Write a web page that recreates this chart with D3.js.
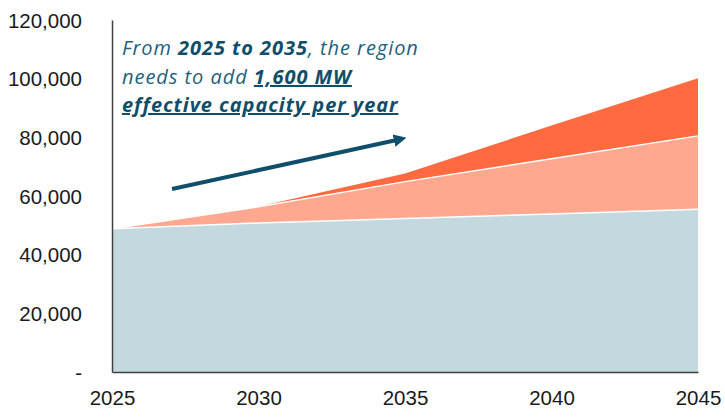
<!DOCTYPE html>
<html>
<head>
<meta charset="utf-8">
<script src="https://cdn.jsdelivr.net/npm/d3@7"></script>
<style>
  body { margin: 0; background: #fff; }
  svg { display: block; }
</style>
</head>
<body>
<svg width="725" height="418"></svg>
<script>
const years = [2025, 2030, 2035, 2040, 2045];
const existing = [48800, 50800, 52300, 53900, 55500];
const growthA = [0, 5500, 12600, 18800, 25000];
const growthB = [0, 100, 2800, 11300, 19600];
const yTicks = [0, 20000, 40000, 60000, 80000, 100000, 120000];

const svg = d3.select("svg");
const x = d3.scaleLinear().domain([2025, 2045]).range([112, 698]);
const y = d3.scaleLinear().domain([0, 120000]).range([372, 20]);

const rows = years.map((yr, i) => ({ year: yr, existing: existing[i], growthA: growthA[i], growthB: growthB[i] }));
const stack = d3.stack().keys(["existing", "growthA", "growthB"]);
const series = stack(rows);
const colors = ["#c4d8df", "#ffa78f", "#ff6a40"];

const area = d3.area()
  .x(d => x(d.data.year))
  .y0(d => y(d[0]))
  .y1(d => y(d[1]));

svg.selectAll("path.layer")
  .data(series)
  .join("path")
  .attr("class", "layer")
  .attr("d", area)
  .attr("fill", (d, i) => colors[i]);

// white separator along the top of the lower layers
const topLine = d3.line()
  .x(d => x(d.data.year))
  .y(d => y(d[1]));
svg.selectAll("path.sep")
  .data(series.slice(0, 2))
  .join("path")
  .attr("class", "sep")
  .attr("d", topLine)
  .attr("fill", "none")
  .attr("stroke", "#fff")
  .attr("stroke-width", 1.5);

// axes
const yAxis = d3.axisLeft(y)
  .tickValues(yTicks)
  .tickSize(0)
  .tickPadding(30)
  .tickFormat(d => d === 0 ? "-" : d3.format(",")(d));
const gy = svg.append("g").attr("transform", "translate(112,0)").call(yAxis);
gy.select(".domain").attr("stroke", "#404040").attr("stroke-width", 1.5);
gy.selectAll("text")
  .attr("font-family", "Liberation Sans, Arial, sans-serif")
  .attr("font-size", 20.5)
  .attr("fill", "#1a1a1a")
  .attr("dy", "0.35em");

const xAxis = d3.axisBottom(x)
  .tickValues(years)
  .tickSize(0)
  .tickPadding(18)
  .tickFormat(d3.format("d"));
const gx = svg.append("g").attr("transform", "translate(0,372)").call(xAxis);
gx.select(".domain").attr("stroke", "#404040").attr("stroke-width", 1.5);
gx.selectAll("text")
  .attr("font-family", "Liberation Sans, Arial, sans-serif")
  .attr("font-size", 20.5)
  .attr("fill", "#1a1a1a");

// arrow
const defs = svg.append("defs");
defs.append("marker")
  .attr("id", "head")
  .attr("viewBox", "0 0 10 10")
  .attr("refX", 4).attr("refY", 5)
  .attr("markerWidth", 3.2).attr("markerHeight", 3.2)
  .attr("orient", "auto")
  .append("path")
  .attr("d", "M0,0 L10,5 L0,10 z")
  .attr("fill", "#0f4f6b");

svg.append("line")
  .attr("x1", 172).attr("y1", 189)
  .attr("x2", 399).attr("y2", 139.5)
  .attr("stroke", "#0f4f6b")
  .attr("stroke-width", 4)
  .attr("marker-end", "url(#head)");

// annotation
const note = svg.append("text")
  .attr("font-family", "Open Sans, sans-serif")
  .attr("font-style", "italic")
  .attr("font-size", 20)
  .attr("letter-spacing", 0.95)
  .attr("fill", "#23607c");

const l1 = note.append("tspan").attr("x", 122).attr("y", 55);
l1.append("tspan").text("From ");
l1.append("tspan").attr("font-weight", "bold").attr("fill", "#104d69").text("2025 to 2035");
l1.append("tspan").text(", the region");

const l2 = note.append("tspan").attr("x", 122).attr("y", 84);
l2.append("tspan").text("needs to add ");
l2.append("tspan").attr("font-weight", "bold").attr("fill", "#104d69")
  .attr("text-decoration", "underline").text("1,600 MW");

note.append("tspan").attr("x", 122).attr("y", 112)
  .attr("font-weight", "bold").attr("fill", "#104d69")
  .attr("text-decoration", "underline")
  .text("effective capacity per year");
</script>
</body>
</html>
